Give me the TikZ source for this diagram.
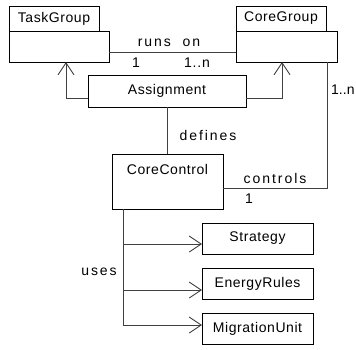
\documentclass[tikz,border=0pt]{standalone}
\usepackage{fontspec}
\setmainfont{Liberation Sans}
\usetikzlibrary{arrows.meta,positioning}

\tikzset{
  cls/.style={draw, line width=0.8pt, inner sep=0pt, outer sep=0pt,
    font=\fontsize{14}{16}\selectfont\addfontfeatures{LetterSpace=4}},
  tab/.style={cls, anchor=south west, minimum width=90pt, minimum height=25pt},
  body/.style={cls, anchor=north west, minimum height=31pt},
  part/.style={cls, minimum width=111pt, minimum height=31pt},
  link/.style={draw=black!75, line width=0.9pt},
  gen/.style={link, -{Straight Barb[length=12pt,width=16pt]}},
  lbl/.style={inner sep=0pt,
    font=\fontsize{14}{16}\selectfont\addfontfeatures{LetterSpace=14}},
  mult/.style={lbl, font=\fontsize{14}{16}\selectfont\addfontfeatures{LetterSpace=6}}
}

\begin{document}
\begin{tikzpicture}[x=1pt,y=-1pt]
  \useasboundingbox (0,0) rectangle (356,349);

  % the two groups, each a tab over an empty body
  \node[tab] (tgt) at (9,31) {TaskGroup};
  \node[body, minimum width=100pt] (tgb) at (9,31) {};
  \node[tab] (cgt) at (236,31) {CoreGroup};
  \node[body, minimum width=101pt] (cgb) at (236,31) {};

  \node[cls, minimum width=158pt, minimum height=32pt] (asg) at (167,91) {Assignment};
  \node[cls, anchor=north west, minimum width=111pt, text height=20pt, text depth=35pt] (ctl) at (112,154) {CoreControl};

  \node[part] (str) at (257.5,238.5) {Strategy};
  \node[part] (enr) at (257.5,284) {EnergyRules};
  \node[part] (mig) at (257.5,329) {MigrationUnit};

  % runs on
  \draw[link] ([yshift=-5.5pt]tgb.east) -- ([yshift=-5.5pt]cgb.west);
  \node[lbl] (runs) at (169,43) {runs\ \ on};
  \node[mult] (m1) at (136,63) {1};
  \node[mult] (mn) at (197,63) {1..n};

  \draw[gen] ([yshift=-7pt]asg.west) -| ([xshift=7pt]tgb.south);
  \draw[gen] ([yshift=-7pt]asg.east) -| ([xshift=-4.5pt]cgb.south);

  % defines
  \draw[link] (asg.south) -- (asg.south |- ctl.north);
  \node[lbl] (def) at (208,135) {defines};

  % controls
  \draw[link] ([xshift=-10pt]cgb.south east) |- ([yshift=-6.5pt]ctl.east);
  \node[inner sep=0pt, anchor=west, font=\fontsize{14}{16}\selectfont] (cn) at (331,90) {1..n};
  \node[lbl] (ctrl) at (275,178) {controls};
  \node[mult] (c1) at (249,199) {1};

  % uses
  \coordinate (trunk) at ([xshift=11pt]ctl.south west);
  \coordinate (pstr) at ([yshift=-5.5pt]str.west);
  \coordinate (penr) at ([yshift=-6pt]enr.west);
  \coordinate (pmig) at ([yshift=4pt]mig.west);
  \draw[gen] (trunk) |- (pmig);
  \draw[gen] (trunk |- pstr) -- (pstr);
  \draw[gen] (trunk |- penr) -- (penr);
  \node[lbl] (uses) at (99,272) {uses};
\end{tikzpicture}
\end{document}
